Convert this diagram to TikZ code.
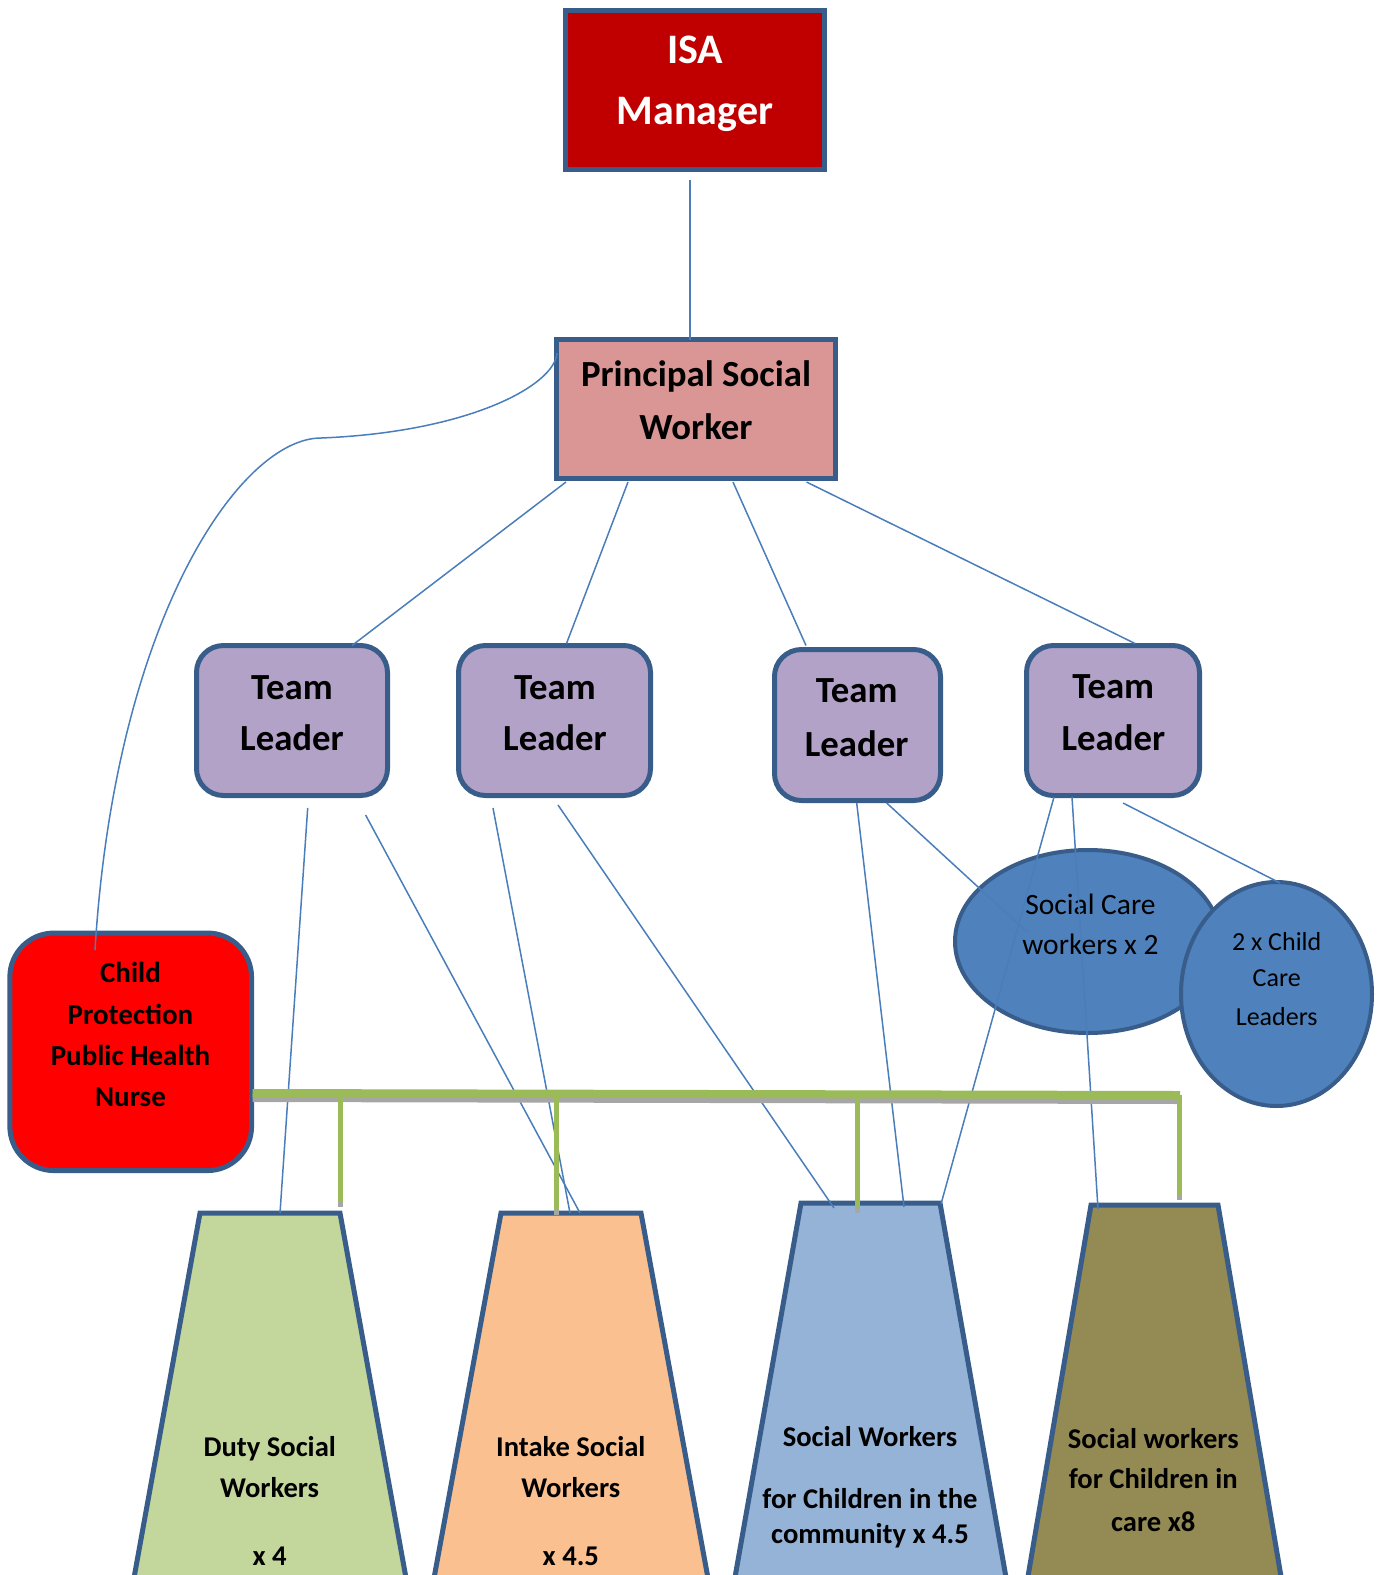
\documentclass[tikz,border=0pt]{standalone}
\usepackage{fontspec}
\setmainfont{Carlito}
\usetikzlibrary{shapes.geometric}
\definecolor{bord}{HTML}{385D8A}
\definecolor{conncol}{HTML}{4A7EBB}
\definecolor{isared}{HTML}{C00000}
\definecolor{pswpink}{HTML}{D99694}
\definecolor{tlpurple}{HTML}{B2A2C7}
\definecolor{cpnred}{HTML}{FF0000}
\definecolor{ellblue}{HTML}{4F81BD}
\definecolor{busgreen}{HTML}{9BBB59}
\definecolor{busgray}{HTML}{A6A6A6}
\definecolor{tzA}{HTML}{C3D69B}
\definecolor{tzB}{HTML}{FAC090}
\definecolor{tzC}{HTML}{95B3D7}
\definecolor{tzD}{HTML}{948A54}
\newcommand\fsA{\bfseries\fontsize{42}{50}\selectfont}
\newcommand\fsB{\bfseries\fontsize{36.8}{44}\selectfont}
\newcommand\fsC{\bfseries\fontsize{29}{34}\selectfont}
\newcommand\fsD{\fontsize{29.5}{35}\selectfont}
\newcommand\fsE{\fontsize{26}{31}\selectfont}
\newcommand\fsF{\bfseries\fontsize{28.6}{34}\selectfont}
\begin{document}
\begin{tikzpicture}[x=1pt,y=-1pt,
  box/.style={draw=bord, line width=5pt, inner sep=0pt, outer sep=0pt},
  tlbox/.style={box, fill=tlpurple, rounded corners=27pt, minimum height=150pt},
  oval/.style={ellipse, draw=bord, line width=4pt, fill=ellblue, inner sep=0pt, outer sep=0pt},
  trap/.style={draw=bord, line width=5pt},
  txt/.style={anchor=base, inner sep=0pt, outer sep=0pt},
  conn/.style={draw=conncol, line width=1.5pt},
  bus/.style={draw=busgreen, line width=8pt},
  busshadow/.style={draw=busgray, line width=8pt},
  drop/.style={draw=busgreen, line width=5pt},
  dropshadow/.style={draw=busgray, line width=5pt}]
\useasboundingbox (0,0) rectangle (1381,1575);
\clip (0,0) rectangle (1381,1575);

% boxes
\node[box, fill=isared, minimum width=259pt, minimum height=159pt] (isa) at (695,90) {};
\node[box, fill=pswpink, minimum width=279pt, minimum height=139pt] (psw) at (696,409) {};
\node[tlbox, minimum width=191pt] (tl1) at (292,720.5) {};
\node[tlbox, minimum width=192pt] (tl2) at (554.5,720.5) {};
\node[tlbox, minimum width=166pt, minimum height=151pt] (tl3) at (857.5,725) {};
\node[tlbox, minimum width=173pt] (tl4) at (1113,720.5) {};
\node[box, fill=cpnred, rounded corners=44pt, minimum width=241.7pt, minimum height=237.5pt] (cpn) at (130.7,1051.8) {};
\node[oval, minimum width=266pt, minimum height=183pt] (sc) at (1088,941.5) {};
\node[oval, minimum width=191pt, minimum height=224pt] (cc) at (1276.5,994) {};

% trapezoids
\filldraw[trap, fill=tzA] (200,1213) -- (340,1213) -- (410,1600) -- (130,1600) -- cycle;
\filldraw[trap, fill=tzB] (501,1213) -- (641,1213) -- (712,1600) -- (430,1600) -- cycle;
\filldraw[trap, fill=tzC] (801,1203) -- (940,1203) -- (1010,1600) -- (731,1600) -- cycle;
\filldraw[trap, fill=tzD] (1091,1205) -- (1218,1205) -- (1285,1600) -- (1024,1600) -- cycle;
\coordinate (t1top) at (270,1213);
\coordinate (t2top) at (571,1213);
\coordinate (t3top) at (870.5,1203);
\coordinate (t4top) at (1154.5,1205);

% texts
\node[txt, text=white, font=\fsA] (isa1) at (695,63.3) {ISA};
\node[txt, text=white, font=\fsA] (isa2) at (695,124) {Manager};
\node[txt, font=\fsB] (psw1) at (696,386.7) {Principal Social};
\node[txt, font=\fsB] (psw2) at (696,439.3) {Worker};
\node[txt, font=\fsB] (tl1a) at (292,699.3) {Team};
\node[txt, font=\fsB] (tl1b) at (292,750.7) {Leader};
\node[txt, font=\fsB] (tl2a) at (555,699.3) {Team};
\node[txt, font=\fsB] (tl2b) at (555,750.7) {Leader};
\node[txt, font=\fsB] (tl3a) at (856.7,702.7) {Team};
\node[txt, font=\fsB] (tl3b) at (856.7,756) {Leader};
\node[txt, font=\fsB] (tl4a) at (1113.3,698) {Team};
\node[txt, font=\fsB] (tl4b) at (1113.3,750.7) {Leader};
\node[txt, font=\fsC] (cpn1) at (130.5,982.7) {Child};
\node[txt, font=\fsC] (cpn2) at (130.5,1024) {Protection};
\node[txt, font=\fsC] (cpn3) at (130.5,1065) {Public Health};
\node[txt, font=\fsC] (cpn4) at (130.5,1106) {Nurse};
\node[txt, font=\fsD] (sc1) at (1090.5,914.3) {Social Care};
\node[txt, font=\fsD] (sc2) at (1090.5,954) {workers x 2};
\node[txt, font=\fsE] (cc1) at (1276.7,950) {2 x Child};
\node[txt, font=\fsE] (cc2) at (1276.7,986.7) {Care};
\node[txt, font=\fsE] (cc3) at (1276.7,1025) {Leaders};
\node[txt, font=\fsF] (ta1) at (269.7,1456.7) {Duty Social};
\node[txt, font=\fsF] (ta2) at (269.7,1497.7) {Workers};
\node[txt, font=\fsF] (ta3) at (269.7,1565.7) {x 4};
\node[txt, font=\fsF] (tb1) at (570.8,1456.7) {Intake Social};
\node[txt, font=\fsF] (tb2) at (570.8,1497.7) {Workers};
\node[txt, font=\fsF] (tb3) at (570.8,1565.7) {x 4.5};
\node[txt, font=\fsF] (tc1) at (870,1446.7) {Social Workers};
\node[txt, font=\fsF] (tc2) at (870,1508.3) {for Children in the};
\node[txt, font=\fsF] (tc3) at (870,1543.3) {community x 4.5};
\node[txt, font=\fsF] (td1) at (1153.3,1448.3) {Social workers};
\node[txt, font=\fsF] (td2) at (1153.3,1488.3) {for Children in};
\node[txt, font=\fsF] (td3) at (1153.3,1531) {care x8};

% connectors
\draw[conn] ([shift={(-5,10.5)}]isa.south) -- ([shift={(-6,0.5)}]psw.north);
\draw[conn] ([shift={(-130,3.5)}]psw.south) -- ([shift={(60,0)}]tl1.north);
\draw[conn] ([shift={(-68,3.5)}]psw.south) -- ([shift={(12,-2)}]tl2.north);
\draw[conn] ([shift={(37,3.5)}]psw.south) -- ([shift={(-51.5,-4)}]tl3.north);
\draw[conn] ([shift={(110.5,3.5)}]psw.south) -- ([shift={(22,-2)}]tl4.north);
\coordinate (bend) at (321,438);
\draw[conn] ([shift={(0.5,13.5)}]psw.north west) .. controls (555,385) and (470,432) .. (bend)
  .. controls (240,438) and (115,620) .. ([shift={(-35.7,17)}]cpn.north);
\draw[conn] ([shift={(15.7,12.5)}]tl1.south) -- ([shift={(10,0)}]t1top);
\draw[conn] ([shift={(73.6,19.5)}]tl1.south) -- ([shift={(9,0)}]t2top);
\draw[conn] ([shift={(-61.5,12.5)}]tl2.south) -- ([shift={(-1,0)}]t2top);
\draw[conn] ([shift={(3.5,9.5)}]tl2.south) -- ([shift={(-36.5,5)}]t3top);
\draw[conn] ([shift={(-0.8,2.5)}]tl3.south) -- ([shift={(33.5,4)}]t3top);
\draw[conn] ([shift={(29.2,2.5)}]tl3.south) -- ([shift={(-61,-9.5)}]sc.center);
\draw[conn] ([shift={(-59,1.5)}]tl4.south) -- ([shift={(70.5,1)}]t3top);
\draw[conn] ([shift={(-41,1.5)}]tl4.south) -- ([shift={(-56.5,4)}]t4top);
\draw[conn] ([shift={(10,7.5)}]tl4.south) -- ([shift={(3.5,1)}]cc.north);

% green bus with shadow
\coordinate (busL) at ([shift={(1,41.2)}]cpn.east);
\coordinate (busR) at (1180,1095);
\draw[busshadow] ([shift={(0,5)}]busL) -- ([shift={(1,5)}]busR);
\draw[dropshadow] (340,1098) -- ([shift={(70,-6)}]t1top);
\draw[dropshadow] (556,1098) -- ([shift={(-15,2)}]t2top);
\draw[dropshadow] (857,1099) -- ([shift={(-13.5,10)}]t3top);
\draw[dropshadow] (1179,1100) -- ([shift={(24.5,-5)}]t4top);
\draw[bus] (busL) -- (busR);
\draw[drop] (340,1093) -- ([shift={(70,-11)}]t1top);
\draw[drop] (556,1093) -- ([shift={(-15,-3)}]t2top);
\draw[drop] (857,1094) -- ([shift={(-13.5,5)}]t3top);
\draw[drop] (1179,1095) -- ([shift={(24.5,-10)}]t4top);
\end{tikzpicture}
\end{document}
